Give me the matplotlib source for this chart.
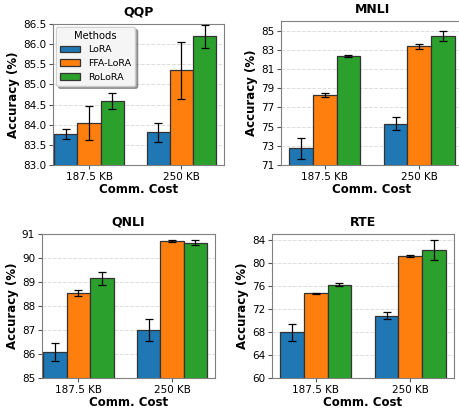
import numpy as np
import matplotlib
matplotlib.use("Agg")
from matplotlib import pyplot as plt

costs = ["187.5 KB", "250 KB"]
methods = ["LoRA", "FFA-LoRA", "RoLoRA"]
colors = ["#1f77b4", "#ff7f0e", "#2ca02c"]

# mean / std per task, rows = methods, cols = comm. cost
qqp_mean = [[83.77, 83.81], [84.04, 85.35], [84.59, 86.19]]
qqp_std = [[0.13, 0.24], [0.42, 0.70], [0.19, 0.29]]
mnli_mean = [[72.75, 75.30], [78.30, 83.35], [82.35, 84.45]]
mnli_std = [[1.10, 0.65], [0.20, 0.25], [0.08, 0.50]]
qnli_mean = [[86.08, 87.00], [88.55, 90.72], [89.15, 90.63]]
qnli_std = [[0.37, 0.47], [0.13, 0.05], [0.27, 0.10]]
rte_mean = [[67.9, 70.8], [74.7, 81.2], [76.2, 82.2]]
rte_std = [[1.45, 0.60], [0.10, 0.20], [0.25, 1.70]]

panels = [
    ("QQP", qqp_mean, qqp_std, (83.0, 86.5), np.arange(83.0, 86.51, 0.5), "%.1f"),
    ("MNLI", mnli_mean, mnli_std, (71, 86), np.arange(71, 86, 2), "%d"),
    ("QNLI", qnli_mean, qnli_std, (85, 91), np.arange(85, 92, 1), "%d"),
    ("RTE", rte_mean, rte_std, (60, 85), np.arange(60, 85, 4), "%d"),
]

# axes boxes in pixels: left, top, right, bottom
boxes = [(53, 24, 224, 165), (281, 21, 463, 165), (42, 234, 215, 378), (272, 234, 454, 378)]

W, H = 459, 409
fig = plt.figure(figsize=(W / 100, H / 100), dpi=100)

x = np.arange(len(costs))
w = 0.25
for k, ((name, mean, std, ylim, yt, fmt), (l, t, r, b)) in enumerate(zip(panels, boxes)):
    ax = fig.add_axes([l / W, 1 - b / H, (r - l) / W, (b - t) / H])
    for i, m in enumerate(methods):
        ax.bar(x + (i - 1) * w, mean[i], w, yerr=std[i], color=colors[i], edgecolor="#333333",
               linewidth=0.9, capsize=3, error_kw=dict(elinewidth=0.9, capthick=0.9, ecolor="black"),
               label=m, zorder=3)
    ax.set_ylim(*ylim)
    if k % 2 == 0:
        ax.set_xlim(-0.39, 1.46)
    ax.set_yticks(yt)
    ax.set_yticklabels([fmt % v for v in yt], fontsize=7.5)
    ax.set_xticks(x)
    ax.set_xticklabels(costs, fontsize=7.5)
    ax.set_title(name, fontsize=9, fontweight="bold", pad=6)
    ax.set_xlabel("Comm. Cost", fontsize=8.5, fontweight="bold", labelpad=1)
    ax.set_ylabel("Accuracy (%)", fontsize=8.5, fontweight="bold", labelpad=2)
    ax.yaxis.grid(True, linestyle="--", color="#dddddd", linewidth=0.7, zorder=0)
    ax.set_axisbelow(True)
    for s in ax.spines.values():
        s.set_color("#808080")
    ax.tick_params(length=3, pad=2, color="#555555")
    if name == "QQP":
        ax.legend(title="Methods", loc="upper left", fontsize=6.8, title_fontsize=7.2,
                  fancybox=True, shadow=True, framealpha=0.9, handlelength=2.2,
                  borderaxespad=0.3)

fig.savefig("out.png", dpi=100)
